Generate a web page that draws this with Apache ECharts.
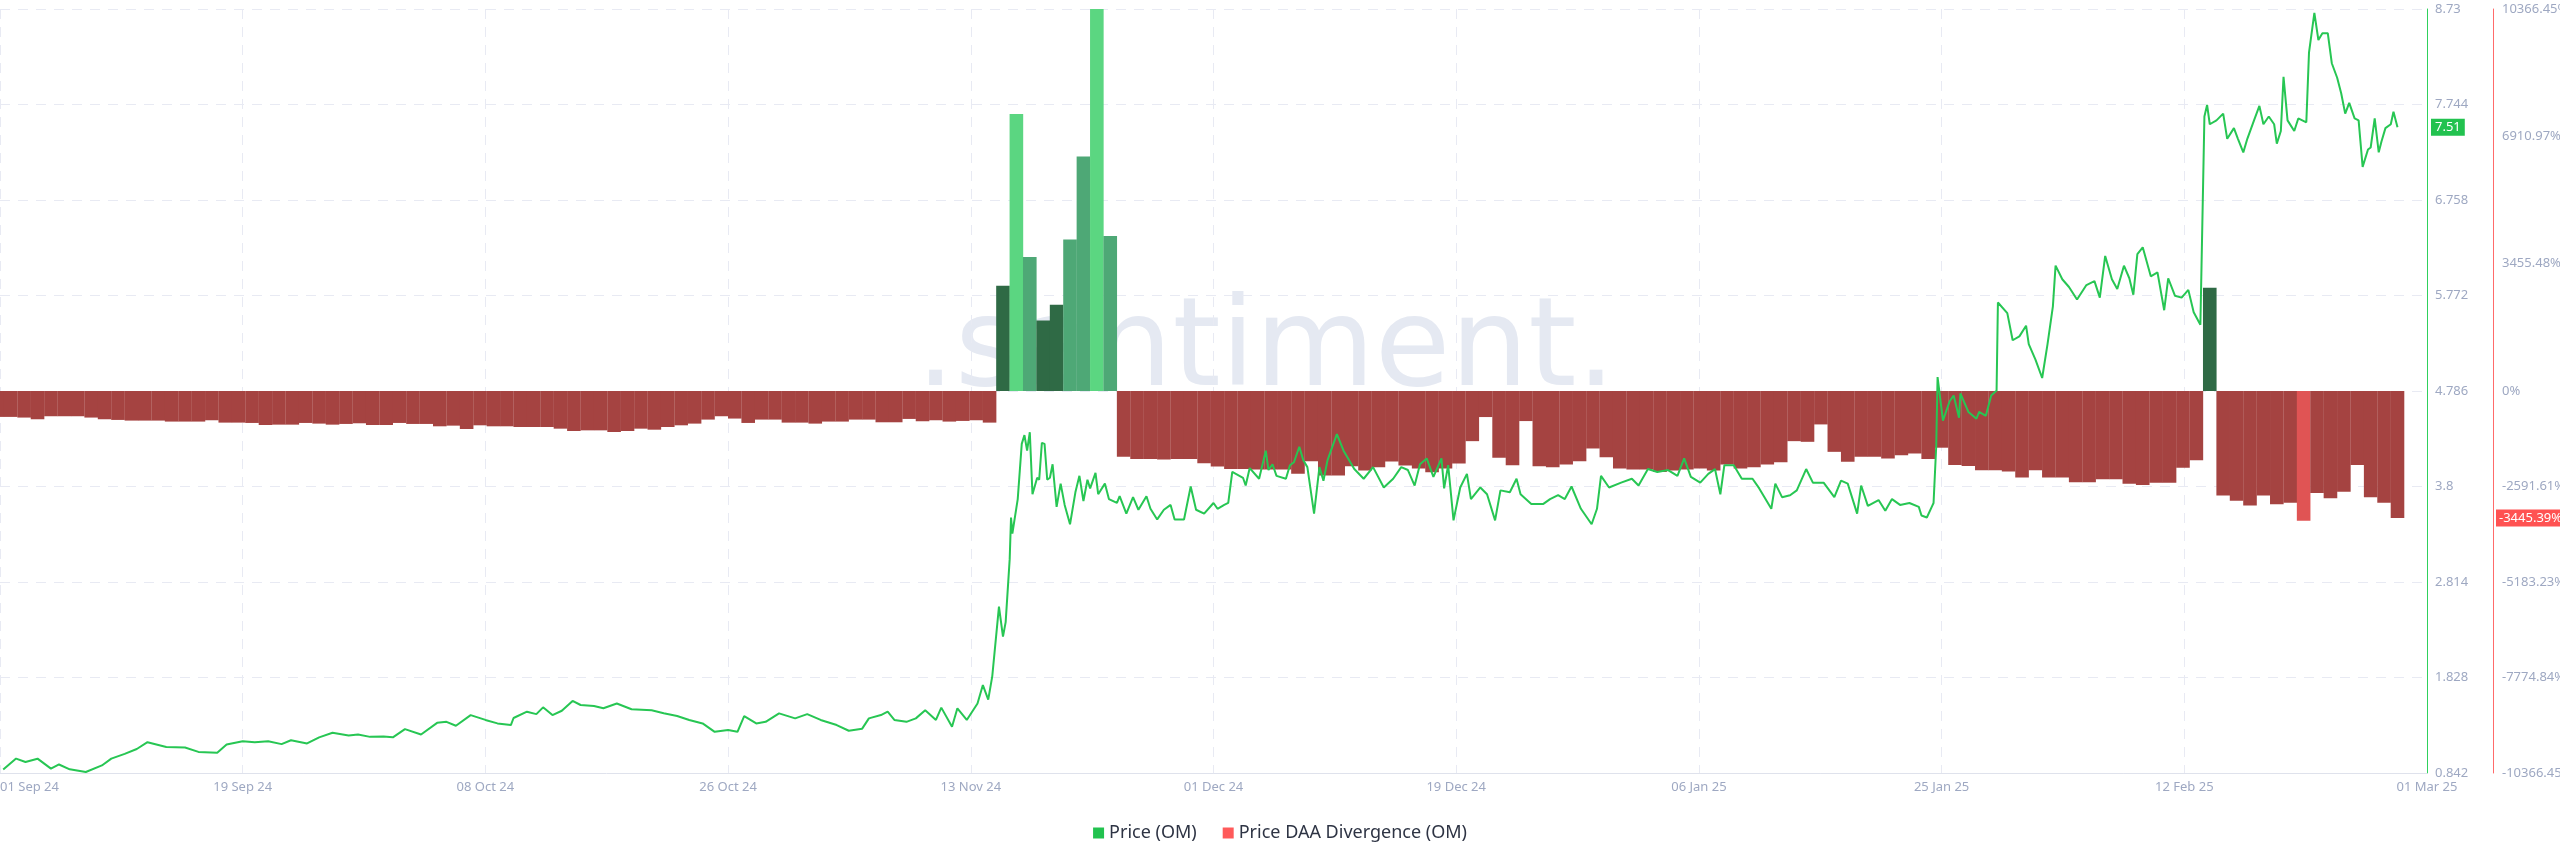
<!DOCTYPE html>
<html><head><meta charset="utf-8">
<script src="https://cdn.jsdelivr.net/npm/echarts@6/dist/echarts.min.js"></script>
<style>html,body{margin:0;padding:0;background:#fff}#c{width:2560px;height:867px}</style>
</head><body><div id="c"></div>
<script>
// x axis: days since 2024-09-01 00:00 UTC
const xTickLabels = ['01 Sep 24','19 Sep 24','08 Oct 24','26 Oct 24','13 Nov 24','01 Dec 24','19 Dec 24','06 Jan 25','25 Jan 25','12 Feb 25','01 Mar 25'];
const divergenceTicks = [-10366.45, -7774.84, -5183.23, -2591.61, 0, 3455.48, 6910.97, 10366.45];

// Price (OM): [day since 2024-09-01, price USD]
const price = [
[0.24,0.877],[1.2,0.991],[1.9,0.956],[2.8,0.99],[3.8,0.887],[4.4,0.93],[5.2,0.88],[6.4,0.852],[7.6,0.92],[8.3,0.99],
[9.3,1.04],[10.2,1.09],[11.0,1.16],[12.4,1.11],[13.8,1.105],[14.8,1.06],[16.2,1.05],[16.9,1.136],[18.1,1.17],[19.0,1.16],
[20.0,1.17],[21.0,1.14],[21.7,1.18],[22.9,1.147],[23.8,1.21],[24.8,1.257],[26.0,1.23],[26.7,1.24],[27.6,1.215],[28.6,1.22],
[29.3,1.21],[30.2,1.295],[31.4,1.24],[32.6,1.36],[33.3,1.37],[34.0,1.33],[35.1,1.44],[36.2,1.39],[37.1,1.354],[38.1,1.337],
[38.3,1.41],[39.3,1.475],[40.0,1.45],[40.5,1.52],[41.2,1.44],[41.9,1.485],[42.7,1.586],[43.3,1.544],[44.3,1.534],[45.0,1.51],
[46.0,1.56],[47.1,1.50],[48.6,1.49],[49.5,1.458],[50.5,1.43],[51.4,1.39],[52.4,1.354],[53.3,1.267],[54.3,1.285],[55.0,1.267],
[55.5,1.43],[56.4,1.354],[57.1,1.37],[58.1,1.458],[59.3,1.406],[60.2,1.45],[61.2,1.39],[62.4,1.337],[63.3,1.278],[64.3,1.30],
[64.8,1.406],[65.7,1.44],[66.2,1.475],[66.7,1.39],[67.6,1.37],[68.3,1.406],[69.0,1.49],[69.8,1.39],[70.2,1.517],[71.0,1.32],
[71.4,1.51],[72.1,1.39],[72.9,1.56],[73.3,1.75],[73.7,1.60],[74.0,1.84],[74.5,2.56],[74.8,2.25],[75.0,2.4],[75.3,3.05],
[75.4,3.48],[75.5,3.315],[75.9,3.67],[76.2,4.24],[76.4,4.33],[76.6,4.17],[76.8,4.36],[77.0,3.72],[77.35,3.89],[77.5,3.87],
[77.7,4.25],[77.9,4.24],[78.1,3.87],[78.3,3.89],[78.5,4.03],[78.8,3.59],[79.1,3.83],[79.4,3.61],[79.8,3.41],[80.2,3.74],
[80.5,3.91],[80.8,3.65],[81.1,3.87],[81.3,3.78],[81.7,3.94],[81.9,3.72],[82.4,3.83],[82.7,3.67],[83.3,3.63],[83.5,3.70],
[84.0,3.52],[84.5,3.69],[84.9,3.56],[85.2,3.63],[85.5,3.70],[85.8,3.57],[86.3,3.46],[86.8,3.56],[87.3,3.61],[87.6,3.46],
[88.3,3.46],[88.8,3.80],[89.2,3.56],[89.8,3.52],[90.5,3.63],[90.8,3.57],[91.3,3.61],[91.6,3.63],[91.9,3.95],[92.7,3.89],
[92.9,3.81],[93.2,3.99],[93.9,3.88],[94.4,4.17],[94.6,3.97],[94.9,4.03],[95.2,3.91],[95.9,3.88],[96.2,4.02],[96.5,4.05],
[96.9,4.21],[97.2,4.07],[97.5,4.00],[98.0,3.52],[98.4,4.00],[98.7,3.86],[99.0,4.07],[99.7,4.34],[100.2,4.17],[101.0,3.98],
[101.7,3.88],[102.4,4.00],[103.2,3.79],[103.9,3.88],[104.5,4.00],[105.0,3.97],[105.5,3.81],[105.9,4.03],[106.4,4.09],[106.9,3.90],
[107.5,4.09],[107.7,3.78],[108.0,4.02],[108.4,3.45],[108.9,3.79],[109.4,3.93],[109.7,3.67],[110.4,3.79],[110.9,3.72],[111.5,3.45],
[111.9,3.76],[112.6,3.74],[113.1,3.88],[113.4,3.72],[114.2,3.62],[115.1,3.62],[115.6,3.67],[116.2,3.71],[116.7,3.67],[117.2,3.80],
[117.9,3.57],[118.7,3.41],[119.1,3.57],[119.4,3.91],[120.0,3.79],[120.9,3.84],[121.7,3.88],[122.2,3.81],[122.9,3.98],[123.6,3.95],
[124.4,3.97],[125.1,3.91],[125.6,4.09],[126.1,3.90],[126.8,3.84],[127.4,3.93],[127.9,3.98],[128.3,3.72],[128.6,4.02],[129.3,4.02],
[129.9,3.88],[130.7,3.88],[131.2,3.78],[132.1,3.57],[132.4,3.83],[132.9,3.69],[133.5,3.71],[134.0,3.76],[134.7,3.98],[135.2,3.84],
[136.0,3.84],[136.8,3.69],[137.3,3.86],[137.8,3.83],[138.5,3.52],[138.8,3.81],[139.3,3.60],[140.1,3.66],[140.6,3.55],[141.1,3.67],
[141.7,3.61],[142.4,3.63],[143.1,3.59],[143.3,3.50],[143.7,3.48],[144.1,3.60],[144.2,3.63],[144.4,4.22],[144.5,4.93],[144.9,4.48],
[145.4,4.68],[145.7,4.74],[146.1,4.51],[146.2,4.76],[146.8,4.57],[147.4,4.50],[147.6,4.57],[148.1,4.53],[148.5,4.74],[148.9,4.79],
[149.0,5.70],[149.7,5.59],[150.1,5.31],[150.6,5.35],[151.1,5.46],[151.3,5.27],[151.8,5.11],[152.3,4.92],[152.7,5.27],[153.1,5.66],
[153.3,6.08],[153.8,5.94],[154.3,5.86],[154.9,5.73],[155.6,5.88],[156.2,5.92],[156.6,5.75],[157.0,6.18],[157.5,5.94],[157.9,5.84],
[158.4,6.08],[158.8,5.95],[159.1,5.78],[159.4,6.20],[159.8,6.27],[160.4,5.97],[160.9,6.01],[161.4,5.62],[161.7,5.95],[162.2,5.77],
[162.7,5.75],[163.2,5.83],[163.6,5.60],[164.1,5.47],[164.4,7.62],[164.6,7.74],[164.8,7.54],[165.3,7.58],[165.8,7.65],[166.1,7.39],
[166.6,7.50],[166.9,7.39],[167.3,7.25],[167.6,7.39],[168.1,7.58],[168.5,7.73],[168.8,7.54],[169.2,7.62],[169.6,7.54],[169.8,7.34],
[170.1,7.47],[170.3,8.03],[170.6,7.58],[171.1,7.47],[171.4,7.60],[172.0,7.56],[172.2,8.28],[172.6,8.69],[172.9,8.41],[173.2,8.48],
[173.6,8.48],[173.9,8.17],[174.3,8.02],[174.6,7.86],[174.9,7.65],[175.2,7.76],[175.6,7.60],[175.9,7.58],[176.2,7.10],[176.6,7.28],
[176.8,7.30],[177.1,7.60],[177.4,7.25],[177.6,7.36],[177.9,7.50],[178.3,7.54],[178.5,7.67],[178.8,7.51]
];

// Price DAA Divergence (OM), %, one value per day starting 2024-09-01
const divergence = [
-703,-703,-721,-767,-685,-685,-685,-721,-767,-785,
-803,-803,-803,-830,-830,-830,-794,-858,-858,-867,
-922,-913,-913,-867,-885,-913,-894,-876,-922,-922,
-867,-894,-894,-958,-940,-1031,-931,-958,-958,-977,
-977,-977,-1022,-1086,-1068,-1068,-1113,-1086,-1022,-1050,
-977,-931,-885,-776,-685,-748,-867,-776,-776,-858,
-858,-885,-830,-830,-776,-776,-849,-849,-758,-821,
-794,-830,-812,-794,-858,2857,7516,3635,1913,2340,
4111,6367,10366.45,4209,-1782,-1842,-1842,-1861,-1842,-1842,
-1959,-2049,-2117,-2117,-2131,-2131,-2131,-2249,-1905,-2295,
-2295,-2041,-2159,-2068,-1914,-2023,-2104,-2204,-2104,-1968,
-1361,-707,-1814,-2014,-816,-2041,-2068,-1995,-1905,-1560,
-1796,-2104,-2131,-2131,-2195,-2159,-2131,-2104,-2159,-1995,
-2104,-2068,-1995,-1932,-1361,-1379,-907,-1651,-1923,-1787,
-1787,-1832,-1741,-1696,-1842,-1539,-2008,-2036,-2153,-2153,
-2184,-2347,-2153,-2347,-2347,-2476,-2476,-2394,-2394,-2514,
-2552,-2492,-2492,-2084,-1880,2800,-2835,-2980,-3107,-2835,
-3075,-3030,-3520,-2767,-2911,-2737,-2008,-2884,-3030,-3445.39
];

const DAYS = 181, XSTEP = 18.1;
const lastPrice = price[price.length - 1][1];
const lastDiv = divergence[divergence.length - 1];
const labelColor = '#9ea8c2';
const gridColor = '#e8eaf3';

function barColor(p) {
  const v = p.value[1];
  if (v >= 0) return v > 7000 ? '#5bd681' : (v > 3000 ? '#4ea876' : '#2f6a45');
  return v < -3480 ? '#e05454' : '#a54341';
}

const chart = echarts.init(document.getElementById('c'), null, {renderer: 'canvas'});
chart.setOption({
  animation: false,
  backgroundColor: '#ffffff',
  textStyle: {fontFamily: 'Noto Sans'},
  grid: {left: 0, right: 133, top: 9, bottom: 94, containLabel: false, outerBoundsMode: 'none'},
  graphic: [{
    type: 'text', z: 0, left: 916, top: 292,
    style: {text: '.santiment.', fontSize: 123, fontFamily: 'DejaVu Sans', fill: '#e5e9f2'}
  }],
  legend: {
    bottom: 20, left: 'center', icon: 'rect', itemWidth: 11, itemHeight: 11, itemGap: 26,
    textStyle: {fontSize: 18, color: '#2e3444', fontFamily: 'Noto Sans'},
    data: [
      {name: 'Price (OM)', itemStyle: {color: '#22c24f'}},
      {name: 'Price DAA Divergence (OM)', itemStyle: {color: '#ff5a5a'}}
    ]
  },
  xAxis: {
    type: 'value', min: 0, max: DAYS, interval: XSTEP,
    axisLine: {onZero: false, lineStyle: {color: '#dfe2ec'}},
    axisTick: {show: false},
    axisLabel: {
      color: labelColor, fontSize: 13, margin: 8, alignMinLabel: 'left', showMaxLabel: true,
      formatter: v => xTickLabels[Math.round(v / XSTEP)] || ''
    },
    splitLine: {show: true, lineStyle: {color: gridColor, type: [10, 8]}}
  },
  yAxis: [
    {
      type: 'value', position: 'right', min: 0.842, max: 8.73, interval: 0.986,
      axisLine: {show: true, onZero: false, lineStyle: {color: '#2fd15c', width: 1}},
      axisTick: {show: false},
      axisLabel: {color: labelColor, fontSize: 13, margin: 8, formatter: v => String(+v.toFixed(3))},
      splitLine: {show: true, lineStyle: {color: gridColor, type: [10, 8]}}
    },
    {
      type: 'value', position: 'right', offset: 66, min: -10366.45, max: 10366.45,
      axisLine: {show: true, onZero: false, lineStyle: {color: '#ff6b6b', width: 1}},
      axisTick: {show: false},
      axisLabel: {
        color: labelColor, fontSize: 13, margin: 9, customValues: divergenceTicks,
        formatter: v => (v === 0 ? '0' : v.toFixed(2)) + '%'
      },
      splitLine: {show: false}
    }
  ],
  series: [
    {
      name: 'Price DAA Divergence (OM)', type: 'bar', yAxisIndex: 1, z: 2,
      barWidth: 13.6,
      data: divergence.map((v, i) => [i - 0.2, v]),
      itemStyle: {color: barColor},
      markLine: {
        silent: true, symbol: 'none', animation: false,
        lineStyle: {color: 'rgba(0,0,0,0)', width: 0},
        data: [{yAxis: lastDiv}],
        label: {
          show: true, position: 'end', distance: 69, formatter: () => lastDiv.toFixed(2) + '%',
          backgroundColor: '#ff5252', color: '#fff', fontSize: 13, padding: [2, 3]
        }
      }
    },
    {
      name: 'Price (OM)', type: 'line', yAxisIndex: 0, z: 3,
      showSymbol: false, symbol: 'none',
      data: price,
      lineStyle: {color: '#27c653', width: 2},
      itemStyle: {color: '#27c653'},
      markLine: {
        silent: true, symbol: 'none', animation: false,
        lineStyle: {color: 'rgba(0,0,0,0)', width: 0},
        data: [{yAxis: lastPrice}],
        label: {
          show: true, position: 'end', distance: 4, formatter: () => String(lastPrice),
          backgroundColor: '#22c24f', color: '#fff', fontSize: 13, padding: [2, 4]
        }
      }
    }
  ]
});
</script></body></html>
